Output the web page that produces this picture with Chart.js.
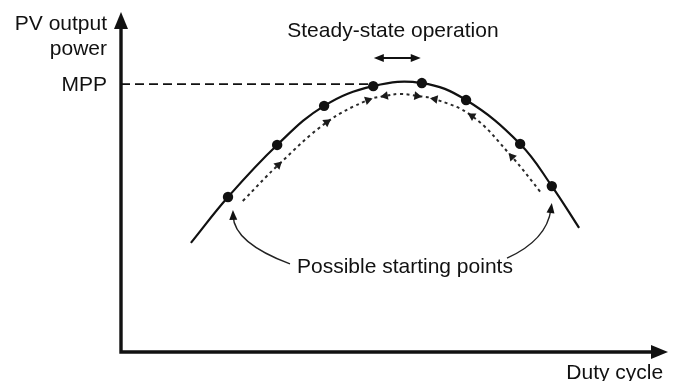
<!DOCTYPE html>
<html><head><meta charset="utf-8">
<script src="https://cdn.jsdelivr.net/npm/chart.js@4/dist/chart.umd.min.js"></script>
<style>html,body{margin:0;padding:0;background:#fff;}canvas{display:block;}</style>
</head><body>
<canvas id="c" width="673" height="381"></canvas>
<script>
// P–V characteristic against duty cycle, both axes in arbitrary units (0–100)
const curveDuty   = [12.8, 19.6, 28.6, 37.2, 46.2, 55.1, 63.2, 73.1, 78.9, 83.9];
const curvePower  = [32.1, 45.6, 60.9, 72.4, 78.2, 79.1, 74.1, 61.2, 48.8, 36.5];
const curveMarked = [false, true, true, true, true, true, true, true, true, false];

// Hill-climbing track just under the curve; heading of each step arrow in degrees (null = no head)
const trackDuty    = [22.3, 28.8, 37.7, 45.2, 48.4, 51.1, 54.2, 57.5, 64.3, 71.6, 77.1];
const trackPower   = [44.4, 55.0, 67.6, 74.1, 75.3, 75.9, 75.3, 74.4, 69.4, 57.4, 46.5];
const trackHeading = [null, 47, 55, 72, -100, null, 98, -80, -59, -42, null];

// Maximum power point level and where its guide line stops
const MPP = 78.8;
const mppDutyEnd = 46.2;

// Steady-state oscillation band (duty cycle range) and its height
const steadyDuty = [46.3, 54.9];
const steadyLevel = 86.5;

// "Possible starting points" pointers: [start, control, tip] in (duty, power)
const startPointers = [
  [[30.95, 25.9], [20.7, 32.1], [20.5, 41.8]],
  [[70.7, 27.6], [78.0, 32.9], [78.9, 43.8]]
];

const FONT = '21px "Liberation Sans", Arial, sans-serif';
const INK = '#111';

function arrowHead(ctx, tipX, tipY, angle, len, half) {
  ctx.save();
  ctx.translate(tipX, tipY);
  ctx.rotate(angle);
  ctx.beginPath();
  ctx.moveTo(0, 0);
  ctx.lineTo(-len, -half);
  ctx.lineTo(-len, half);
  ctx.closePath();
  ctx.fill();
  ctx.restore();
}

const decorations = {
  id: 'decorations',
  afterDatasetsDraw(chart) {
    const ctx = chart.ctx;
    const xs = chart.scales.x, ys = chart.scales.y;
    const X = v => xs.getPixelForValue(v);
    const Y = v => ys.getPixelForValue(v);
    ctx.save();
    ctx.strokeStyle = INK;
    ctx.fillStyle = INK;

    // axes with arrow heads
    const x0 = X(0), y0 = Y(0), xEnd = X(100), yEnd = Y(100);
    ctx.lineWidth = 3.4;
    ctx.beginPath();
    ctx.moveTo(x0, y0 + 1.7);
    ctx.lineTo(x0, yEnd + 12);
    ctx.moveTo(x0 - 1.7, y0);
    ctx.lineTo(xEnd - 12, y0);
    ctx.stroke();
    arrowHead(ctx, x0, yEnd, -Math.PI / 2, 17, 7);
    arrowHead(ctx, xEnd + 1, y0, 0, 17, 7);

    // steady-state double arrow
    const sy = Y(steadyLevel), sa = X(steadyDuty[0]), sb = X(steadyDuty[1]);
    ctx.lineWidth = 2;
    ctx.beginPath();
    ctx.moveTo(sa + 6, sy);
    ctx.lineTo(sb - 6, sy);
    ctx.stroke();
    arrowHead(ctx, sa, sy, Math.PI, 10, 4);
    arrowHead(ctx, sb, sy, 0, 10, 4);

    // curved pointers to the starting points
    ctx.lineWidth = 1.4;
    ctx.strokeStyle = '#222';
    startPointers.forEach(([p0, c, p2]) => {
      const ax = X(p0[0]), ay = Y(p0[1]);
      const cx = X(c[0]), cy = Y(c[1]);
      const bx = X(p2[0]), by = Y(p2[1]);
      const ang = Math.atan2(by - cy, bx - cx);
      const ex = bx - Math.cos(ang) * 6, ey = by - Math.sin(ang) * 6;
      ctx.beginPath();
      ctx.moveTo(ax, ay);
      ctx.quadraticCurveTo(cx, cy, ex, ey);
      ctx.stroke();
      arrowHead(ctx, bx, by, ang, 10, 4);
    });

    // labels
    ctx.font = FONT;
    ctx.fillStyle = INK;
    ctx.textBaseline = 'alphabetic';
    ctx.textAlign = 'right';
    ctx.fillText('PV output', X(-2.56), 30);
    ctx.fillText('power', X(-2.56), 55);
    ctx.textBaseline = 'middle';
    ctx.fillText('MPP', X(-2.56), Y(MPP) + 1);
    ctx.textBaseline = 'alphabetic';
    ctx.fillText('Duty cycle', X(99.3), 379);
    ctx.textAlign = 'center';
    ctx.fillText('Steady-state operation', X(49.8), 37);
    ctx.fillText('Possible starting points', X(52.0), 273);
    ctx.restore();
  }
};

new Chart(document.getElementById('c'), {
  type: 'scatter',
  data: {
    datasets: [
      {
        label: 'P–V curve',
        data: curveDuty.map((d, i) => ({ x: d, y: curvePower[i] })),
        showLine: true,
        tension: 0.4,
        borderColor: INK,
        borderWidth: 2.2,
        pointRadius: ctx => curveMarked[ctx.dataIndex] ? 5.2 : 0,
        pointBackgroundColor: INK,
        pointBorderWidth: 0
      },
      {
        label: 'Tracking path',
        data: trackDuty.map((d, i) => ({ x: d, y: trackPower[i] })),
        showLine: true,
        tension: 0.4,
        borderColor: '#2a2a2a',
        borderWidth: 2,
        borderDash: [3, 3.5],
        pointStyle: 'triangle',
        pointRotation: ctx => trackHeading[ctx.dataIndex] ?? 0,
        pointRadius: ctx => trackHeading[ctx.dataIndex] == null ? 0 : 5,
        pointBackgroundColor: '#1a1a1a',
        pointBorderWidth: 0
      },
      {
        label: 'MPP',
        data: [{ x: 0, y: MPP }, { x: mppDutyEnd, y: MPP }],
        showLine: true,
        borderColor: INK,
        borderWidth: 1.6,
        borderDash: [9, 5],
        pointRadius: 0
      }
    ]
  },
  options: {
    responsive: false,
    animation: false,
    layout: { padding: { left: 121, right: 6, top: 12, bottom: 29 } },
    plugins: { legend: { display: false }, tooltip: { enabled: false } },
    scales: {
      x: { type: 'linear', min: 0, max: 100, display: false },
      y: { type: 'linear', min: 0, max: 100, display: false }
    }
  },
  plugins: [decorations]
});
</script>
</body></html>
